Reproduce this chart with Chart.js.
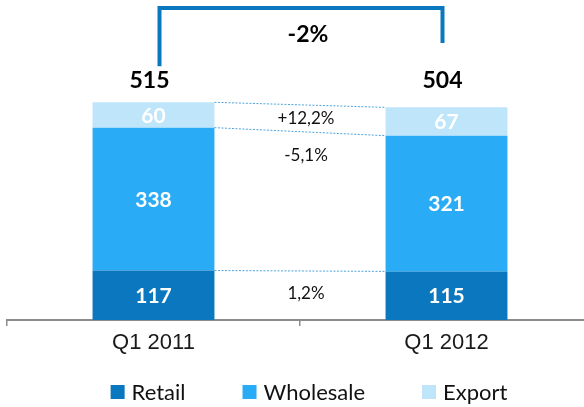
<!DOCTYPE html>
<html><head><meta charset="utf-8">
<script src="https://cdn.jsdelivr.net/npm/chart.js@4"></script>
<style>html,body{margin:0;padding:0;overflow:hidden;background:#fff}</style>
</head><body>
<canvas id="c" width="600" height="407"></canvas>
<script>
const categories = ['Q1 2011', 'Q1 2012'];
const retail = [117, 115];
const wholesale = [338, 321];
const exportVals = [60, 67];
const totals = [515, 504];
const seriesNames = ['Retail', 'Wholesale', 'Export'];
const changeLabels = ['1,2%', '-5,1%', '+12,2%']; // Retail, Wholesale, Export
const totalChange = '-2%';
const colors = ['#0a77bf', '#2aabf6', '#bfe5fb'];

const LABEL_FONT = 'Lato, "Open Sans", sans-serif';

const overlay = {
  id: 'overlay',
  afterDatasetsDraw(chart) {
    const ctx = chart.ctx;
    const metas = [0, 1, 2].map(i => chart.getDatasetMeta(i));
    ctx.save();
    // segment value labels
    ctx.textAlign = 'center';
    ctx.textBaseline = 'middle';
    ctx.fillStyle = '#ffffff';
    ctx.font = 'bold 21px ' + LABEL_FONT;
    metas.forEach((m, di) => {
      m.data.forEach((bar, j) => {
        const v = chart.data.datasets[di].data[j];
        ctx.fillText(String(v), bar.x, (bar.y + bar.base) / 2 + 1);
      });
    });
    const b0 = metas[2].data[0], b1 = metas[2].data[1];
    const w = b0.width;
    // dotted connectors
    ctx.strokeStyle = '#4aa3dc';
    ctx.lineWidth = 1;
    ctx.setLineDash([2, 1.5]);
    metas.forEach(m => {
      const a = m.data[0], b = m.data[1];
      ctx.beginPath();
      ctx.moveTo(a.x + w / 2, a.y);
      ctx.lineTo(b.x - w / 2, b.y);
      ctx.stroke();
    });
    ctx.setLineDash([]);
    // change labels between bars
    const midX = (b0.x + b1.x) / 2 + 6;
    ctx.fillStyle = '#111111';
    ctx.font = '17px ' + LABEL_FONT;
    const r0 = metas[0].data[0], r1 = metas[0].data[1];
    const w0 = metas[1].data[0], w1 = metas[1].data[1];
    ctx.fillText(changeLabels[2], midX, (b0.y + b1.y + w0.y + w1.y) / 4);
    ctx.fillText(changeLabels[1], midX, (w0.y + w1.y) / 2 + 24);
    ctx.fillText(changeLabels[0], midX, (r0.y + r1.y) / 4 + r0.base / 2 - 2);
    // totals
    const topY = Math.min(b0.y, b1.y);
    const totY = topY - 22;
    ctx.font = 'bold 23px ' + LABEL_FONT;
    ctx.fillStyle = '#000000';
    ctx.fillText(String(totals[0]), b0.x - 4, totY);
    ctx.fillText(String(totals[1]), b1.x - 4, totY);
    // bracket
    ctx.strokeStyle = '#0a78be';
    ctx.lineWidth = 4;
    ctx.lineJoin = 'miter';
    ctx.beginPath();
    ctx.moveTo(b0.x + 6, totY - 14);
    ctx.lineTo(b0.x + 6, 8);
    ctx.lineTo(b1.x - 4, 8);
    ctx.lineTo(b1.x - 4, 43);
    ctx.stroke();
    ctx.fillText(totalChange, (b0.x + b1.x) / 2 + 8, 35);
    // legend
    ctx.font = '22px ' + LABEL_FONT;
    ctx.textAlign = 'left';
    const box = 14, gap = 7, itemGap = 57;
    const widths = seriesNames.map(n => ctx.measureText(n).width);
    const total = widths.reduce((s, x) => s + x + box + gap, 0) + itemGap * (seriesNames.length - 1);
    let x = 309 - total / 2;
    const ly = 392;
    seriesNames.forEach((n, i) => {
      ctx.fillStyle = colors[i];
      ctx.fillRect(x, ly - box / 2, box, box);
      ctx.fillStyle = '#111111';
      ctx.fillText(n, x + box + gap, ly + 1);
      x += box + gap + widths[i] + itemGap;
    });
    ctx.restore();
  }
};

new Chart(document.getElementById('c'), {
  type: 'bar',
  data: {
    labels: categories,
    datasets: [
      { label: seriesNames[0], data: retail, backgroundColor: colors[0] },
      { label: seriesNames[1], data: wholesale, backgroundColor: colors[1] },
      { label: seriesNames[2], data: exportVals, backgroundColor: colors[2] }
    ]
  },
  options: {
    responsive: false,
    animation: false,
    layout: { padding: { left: 7, right: 7, top: 0, bottom: 0 } },
    datasets: { bar: { categoryPercentage: 1, barPercentage: 0.416, borderWidth: 0 } },
    plugins: { legend: { display: false }, tooltip: { enabled: false } },
    scales: {
      x: {
        stacked: true,
        offset: true,
        border: { display: true, color: '#8c8c8c', width: 2 },
        grid: { display: true, drawOnChartArea: false, drawTicks: true, tickLength: 6, color: '#8c8c8c', lineWidth: 1.5, offset: true },
        ticks: { color: '#1a1a1a', padding: 4, font: { family: '"Liberation Sans", Arial, sans-serif', size: 22 } },
        afterFit(s) { s.height = 87; }
      },
      y: {
        stacked: true,
        display: false,
        min: 0,
        max: 757
      }
    }
  },
  plugins: [overlay]
});
</script>
</body></html>
